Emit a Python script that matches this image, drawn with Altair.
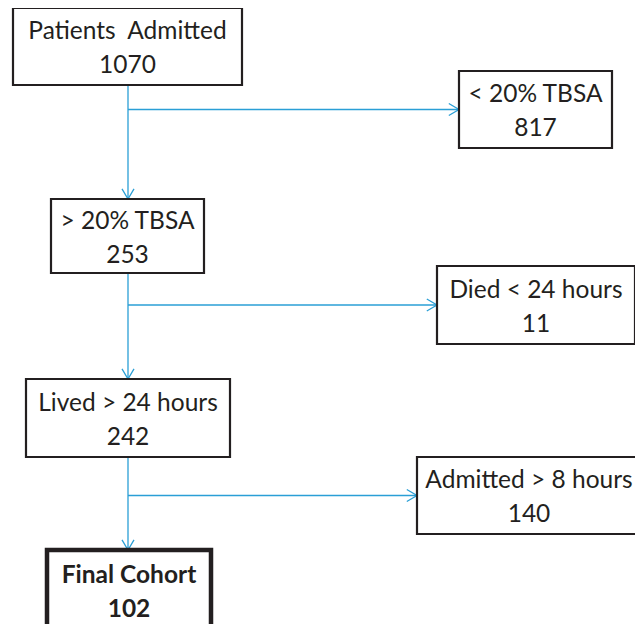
import altair as alt
import pandas as pd

# --- content ---
labels = ["Patients\u00a0\u00a0Admitted", "< 20% TBSA", "> 20% TBSA", "Died < 24 hours",
          "Lived > 24 hours", "Admitted > 8 hours", "Final Cohort"]
counts = [1070, 817, 253, 11, 242, 140, 102]
bold = [False, False, False, False, False, False, True]

# --- layout (pixel space of the 643x632 page) ---
box_x0 = [13, 459, 51, 437, 26, 417, 47]
box_x1 = [242, 612, 204, 635, 230, 641, 211]
box_y0 = [8, 71, 199, 266, 379, 457, 550]
box_y1 = [85, 148, 273, 344, 457, 534, 630]
main_flow = [(0, 2), (2, 4), (4, 6)]
side_flow = [(0, 1), (2, 3), (4, 5)]
trunk_x = 128

boxes = pd.DataFrame({
    "label": labels, "count": [str(c) for c in counts], "bold": bold,
    "x0": box_x0, "x1": box_x1, "y0": box_y0, "y1": box_y1,
})
boxes["cx"] = (boxes.x0 + boxes.x1) / 2
boxes["cy"] = (boxes.y0 + boxes.y1) / 2
boxes["b1"] = boxes.cy - 7.5
boxes["b2"] = boxes.cy + 26.5

vert = pd.DataFrame({
    "x": [trunk_x] * 3,
    "y": [box_y1[s] for s, t in main_flow],
    "y2": [box_y0[t] for s, t in main_flow],
})
horiz = pd.DataFrame({
    "x": [trunk_x] * 3,
    "x2": [box_x0[t] for s, t in side_flow],
    "y": [(box_y0[t] + box_y1[t]) / 2 for s, t in side_flow],
})

W, H = 627, 616
xs = alt.Scale(domain=[8, 8 + W], nice=False, zero=False)
ys = alt.Scale(domain=[8, 8 + H], nice=False, zero=False, reverse=True)
X = lambda f: alt.X(f, type="quantitative", scale=xs, axis=None)
Y = lambda f: alt.Y(f, type="quantitative", scale=ys, axis=None)

BLUE = "#2A9FD6"
INK = "#231F20"
FONT = "Lato"

v_lines = alt.Chart(vert).mark_rule(color=BLUE, strokeWidth=1.3).encode(
    x=X("x"), y=Y("y"), y2="y2")
h_lines = alt.Chart(horiz).mark_rule(color=BLUE, strokeWidth=1.3).encode(
    x=X("x"), x2="x2", y=Y("y"))
down_heads = alt.Chart(vert).mark_point(
    shape="M-1,-1.7L0,0L1,-1.7", filled=False, stroke=BLUE, strokeWidth=1.3,
    size=144, opacity=1).encode(x=X("x"), y=Y("y2"))
right_heads = alt.Chart(horiz).mark_point(
    shape="M-1.7,-1L0,0L-1.7,1", filled=False, stroke=BLUE, strokeWidth=1.3,
    size=144, opacity=1).encode(x=X("x2"), y=Y("y"))

rects = alt.Chart(boxes).mark_rect(fill="white", stroke=INK).encode(
    x=X("x0"), x2="x1", y=Y("y0"), y2="y1",
    strokeWidth=alt.condition("datum.bold", alt.value(4.5), alt.value(2.2)))

layers = [v_lines, h_lines, down_heads, right_heads, rects]
for flag, weight in [(False, "normal"), (True, "bold")]:
    t_base = dict(font=FONT, fontSize=24.5, color=INK, baseline="alphabetic",
                  align="center", fontWeight=weight)
    filt = "datum.bold" if flag else "!datum.bold"
    layers.append(alt.Chart(boxes).transform_filter(filt).mark_text(**t_base).encode(
        x=X("cx"), y=Y("b1"), text="label:N"))
    layers.append(alt.Chart(boxes).transform_filter(filt).mark_text(**t_base).encode(
        x=X("cx"), y=Y("b2"), text="count:N"))

chart = alt.layer(*layers).properties(
    width=W, height=H, padding=0, autosize=alt.AutoSizeParams(type="none"),
    background="white"
).configure_view(stroke=None)

chart.save("out.html", embed_options={"renderer": "svg", "actions": False})
